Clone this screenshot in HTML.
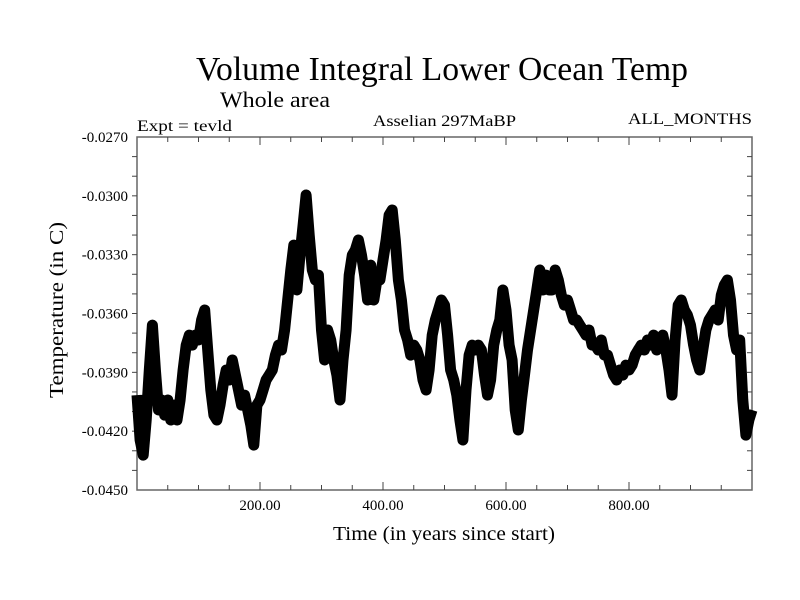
<!DOCTYPE html>
<html><head><meta charset="utf-8"><style>
html,body{margin:0;padding:0;background:#fff;}
svg{display:block;font-family:"Liberation Serif",serif;}
</style></head><body>
<svg id="chart" width="800" height="600" viewBox="0 0 800 600">
<rect width="800" height="600" fill="#fff"/>
<text x="196" y="80" font-size="34" textLength="492" lengthAdjust="spacingAndGlyphs">Volume Integral Lower Ocean Temp</text>
<text x="220" y="107" font-size="22" textLength="110" lengthAdjust="spacingAndGlyphs">Whole area</text>
<text x="137" y="131" font-size="16" textLength="95" lengthAdjust="spacingAndGlyphs">Expt = tevld</text>
<text x="373" y="126" font-size="16" textLength="143" lengthAdjust="spacingAndGlyphs">Asselian 297MaBP</text>
<text x="628" y="124" font-size="16" textLength="124" lengthAdjust="spacingAndGlyphs">ALL_MONTHS</text>
<g id="axes"></g>
<g id="series"></g>
<text x="444" y="540" font-size="20" text-anchor="middle" textLength="222" lengthAdjust="spacingAndGlyphs">Time (in years since start)</text>
<text transform="translate(63,310) rotate(-90)" font-size="20" text-anchor="middle" textLength="176" lengthAdjust="spacingAndGlyphs">Temperature (in C)</text>
</svg>
<script>
const yTickValues=[-0.027,-0.030,-0.033,-0.036,-0.039,-0.042,-0.045];
const yTickLabels=["-0.0270","-0.0300","-0.0330","-0.0360","-0.0390","-0.0420","-0.0450"];
const xTickValues=[200,400,600,800];
const xTickLabels=["200.00","400.00","600.00","800.00"];
const startYear=0;
const stepYears=5;
const temps=[
-0.04016,-0.04245,-0.04322,-0.04143,-0.03888,-0.03659,-0.03888,-0.04092,-0.04041,-0.04118,
-0.04041,-0.04143,-0.04067,-0.04143,-0.04041,-0.03888,-0.03761,-0.03710,-0.03761,-0.03710,
-0.03735,-0.03633,-0.03582,-0.03786,-0.03990,-0.04118,-0.04143,-0.04067,-0.03965,-0.03888,
-0.03939,-0.03837,-0.03914,-0.03990,-0.04067,-0.04016,-0.04092,-0.04169,-0.04271,-0.04067,
-0.04041,-0.03990,-0.03939,-0.03914,-0.03888,-0.03812,-0.03761,-0.03786,-0.03684,-0.03531,
-0.03378,-0.03251,-0.03480,-0.03302,-0.03149,-0.02996,-0.03200,-0.03378,-0.03429,-0.03404,
-0.03684,-0.03837,-0.03684,-0.03735,-0.03837,-0.03914,-0.04041,-0.03837,-0.03684,-0.03404,
-0.03302,-0.03276,-0.03225,-0.03302,-0.03404,-0.03531,-0.03353,-0.03531,-0.03429,-0.03429,
-0.03327,-0.03225,-0.03098,-0.03072,-0.03225,-0.03429,-0.03531,-0.03684,-0.03735,-0.03812,
-0.03761,-0.03786,-0.03837,-0.03939,-0.03990,-0.03888,-0.03710,-0.03633,-0.03582,-0.03531,
-0.03557,-0.03710,-0.03888,-0.03939,-0.04016,-0.04143,-0.04245,-0.03990,-0.03812,-0.03761,
-0.03786,-0.03761,-0.03786,-0.03914,-0.04016,-0.03939,-0.03761,-0.03684,-0.03633,-0.03480,
-0.03582,-0.03761,-0.03837,-0.04092,-0.04194,-0.04041,-0.03914,-0.03786,-0.03684,-0.03582,
-0.03480,-0.03378,-0.03480,-0.03404,-0.03480,-0.03480,-0.03378,-0.03429,-0.03506,-0.03557,
-0.03531,-0.03582,-0.03633,-0.03633,-0.03659,-0.03684,-0.03710,-0.03684,-0.03761,-0.03761,
-0.03786,-0.03735,-0.03812,-0.03812,-0.03863,-0.03914,-0.03939,-0.03888,-0.03914,-0.03863,
-0.03888,-0.03863,-0.03812,-0.03786,-0.03761,-0.03786,-0.03735,-0.03761,-0.03710,-0.03786,
-0.03761,-0.03710,-0.03786,-0.03888,-0.04016,-0.03735,-0.03557,-0.03531,-0.03582,-0.03608,
-0.03659,-0.03761,-0.03837,-0.03888,-0.03786,-0.03684,-0.03633,-0.03608,-0.03582,-0.03633,
-0.03506,-0.03455,-0.03429,-0.03531,-0.03710,-0.03786,-0.03735,-0.04041,-0.04220,-0.04143,
-0.04092];
const L=137,R=752,T=137,B=490,X0=0,X1=1000,Y0=-0.045,Y1=-0.027;
const sx=v=>L+(v-X0)/(X1-X0)*(R-L);
const sy=v=>B-(v-Y0)/(Y1-Y0)*(B-T);
const NS="http://www.w3.org/2000/svg";
const axes=document.getElementById('axes');
function mk(tag,attrs,parent){const e=document.createElementNS(NS,tag);for(const k in attrs)e.setAttribute(k,attrs[k]);parent.appendChild(e);return e;}
const frame=mk('rect',{x:L,y:T,width:R-L,height:B-T,fill:'none',stroke:'#666','stroke-width':1.5},axes);


for(let v=50;v<1000;v+=50){const big=v%200===0;const x=sx(v);
const t1=mk('line',{x1:x,x2:x,y1:B,y2:B-(big?8:5),stroke:'#444'},axes);


const t2=mk('line',{x1:x,x2:x,y1:T,y2:T+(big?8:5),stroke:'#444'},axes);

}
for(let i=1;i<18;i++){const y=sy(Y0+i*0.001);
const t1=mk('line',{x1:L,x2:L-5,y1:y,y2:y,stroke:'#444'},axes);


const t2=mk('line',{x1:R,x2:R-5,y1:y,y2:y,stroke:'#444'},axes);

}
yTickValues.forEach((v,i)=>{const t=mk('text',{x:128,y:sy(v)+5,'font-size':15,'text-anchor':'end'},axes);t.textContent=yTickLabels[i];

});
xTickValues.forEach((v,i)=>{const t=mk('text',{x:sx(v),y:510,'font-size':15,'text-anchor':'middle'},axes);t.textContent=xTickLabels[i];

});
const pts=temps.map((v,i)=>sx(startYear+i*stepYears).toFixed(1)+','+sy(v).toFixed(1)).join(' ');
const line=mk('polyline',{points:pts,fill:'none',stroke:'#000','stroke-width':11,'stroke-linejoin':'round'},document.getElementById('series'));


</script>
</body></html>
